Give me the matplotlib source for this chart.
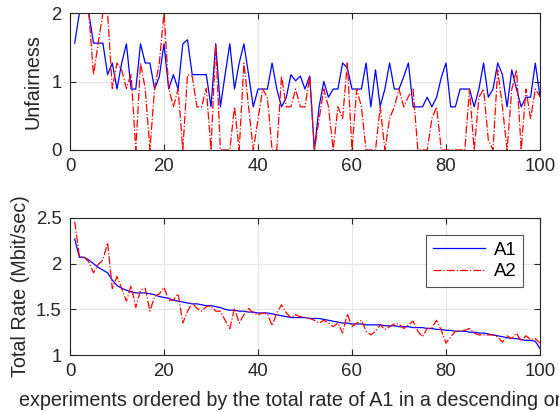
import numpy as np
import matplotlib
matplotlib.use("Agg")
import matplotlib.pyplot as plt

# experiment index
experiments = np.arange(1, 101)

# unfairness per experiment
unfair_a1 = [1.56, 2.0, 2.0, 2.0, 1.56, 1.56, 1.56, 1.1, 1.27, 0.89,
             1.27, 1.55, 0.89, 0.89, 1.55, 1.27, 1.27, 0.89, 1.07, 1.55,
             0.89, 1.1, 0.89, 1.55, 1.61, 1.1, 1.1, 1.1, 1.1, 0.63,
             1.55, 0.63, 1.1, 1.55, 0.89, 1.27, 1.55, 1.1, 0.63, 0.89,
             0.89, 0.89, 1.27, 0.89, 0.63, 0.76, 1.1, 1.01, 1.08, 0.89,
             1.08, 0.0, 0.63, 1.0, 0.77, 0.89, 0.89, 1.27, 1.2, 0.89,
             0.89, 0.89, 1.27, 0.63, 1.17, 0.64, 0.89, 1.27, 0.89, 0.89,
             1.07, 1.27, 0.63, 0.63, 0.63, 0.77, 0.63, 0.77, 1.06, 1.27,
             0.63, 0.63, 0.89, 0.89, 0.89, 0.63, 0.89, 1.27, 0.77, 0.89,
             1.27, 1.1, 0.63, 1.17, 0.89, 0.63, 0.77, 0.77, 1.27, 0.78]
unfair_a2 = [2.0, 2.0, 2.0, 2.0, 1.1, 1.56, 2.0, 2.0, 0.9, 1.27,
             1.17, 0.9, 1.1, 0.0, 1.27, 0.9, 0.0, 0.9, 1.27, 2.0,
             0.9, 0.63, 0.89, 0.0, 1.1, 1.08, 0.63, 0.63, 0.9, 0.0,
             1.55, 0.0, 0.0, 0.0, 0.63, 0.0, 1.27, 0.63, 0.0, 0.45,
             0.89, 0.77, 0.0, 0.0, 1.08, 0.63, 0.63, 0.89, 0.63, 0.63,
             1.08, 0.0, 0.45, 0.89, 0.63, 0.0, 0.63, 0.46, 1.27, 0.0,
             0.89, 0.63, 0.0, 0.0, 0.0, 0.63, 0.0, 0.46, 0.63, 0.89,
             0.63, 0.78, 0.89, 0.0, 0.0, 0.0, 0.46, 0.63, 0.0, 0.0,
             0.0, 0.0, 0.0, 0.0, 0.89, 0.0, 0.77, 0.89, 0.15, 0.0,
             1.17, 0.63, 0.0, 0.89, 1.17, 0.0, 0.89, 0.46, 0.89, 0.78]

# total rate (Mbit/sec)
rate_a1 = [2.27, 2.07, 2.07, 2.04, 2.0, 1.96, 1.93, 1.9, 1.82, 1.76,
           1.73, 1.71, 1.69, 1.68, 1.68, 1.68, 1.67, 1.66, 1.64, 1.63,
           1.62, 1.6, 1.59, 1.58, 1.57, 1.56, 1.56, 1.55, 1.54, 1.54,
           1.53, 1.52, 1.5, 1.49, 1.49, 1.48, 1.48, 1.47, 1.47, 1.46,
           1.46, 1.46, 1.45, 1.44, 1.43, 1.42, 1.41, 1.41, 1.41, 1.41,
           1.4, 1.4, 1.4, 1.39, 1.38, 1.37, 1.36, 1.35, 1.35, 1.34,
           1.34, 1.34, 1.33, 1.33, 1.33, 1.33, 1.32, 1.32, 1.32, 1.31,
           1.31, 1.31, 1.3, 1.3, 1.3, 1.29, 1.29, 1.28, 1.28, 1.27,
           1.27, 1.26, 1.26, 1.26, 1.25, 1.25, 1.24, 1.24, 1.23, 1.22,
           1.21, 1.2, 1.19, 1.18, 1.18, 1.17, 1.16, 1.16, 1.15, 1.07]
rate_a2 = [2.46, 2.08, 2.07, 2.02, 1.9, 1.99, 2.04, 2.23, 1.73, 1.86,
           1.73, 1.59, 1.76, 1.52, 1.71, 1.73, 1.48, 1.64, 1.67, 1.74,
           1.6, 1.6, 1.67, 1.35, 1.48, 1.57, 1.51, 1.48, 1.53, 1.54,
           1.48, 1.48, 1.38, 1.29, 1.51, 1.35, 1.44, 1.51, 1.46, 1.44,
           1.46, 1.45, 1.32, 1.46, 1.55, 1.46, 1.41, 1.44, 1.42, 1.41,
           1.4, 1.38, 1.35, 1.38, 1.35, 1.31, 1.35, 1.24, 1.45, 1.31,
           1.35, 1.38, 1.26, 1.22, 1.26, 1.33, 1.28, 1.31, 1.34, 1.34,
           1.29, 1.33, 1.37, 1.26, 1.2, 1.29, 1.3, 1.38, 1.27, 1.13,
           1.2, 1.26, 1.26, 1.27, 1.29, 1.24, 1.22, 1.22, 1.22, 1.22,
           1.2, 1.14, 1.21, 1.18, 1.24, 1.15, 1.21, 1.17, 1.18, 1.13]

plt.rcParams['font.family'] = ['Liberation Sans', 'DejaVu Sans']

EDGE = '#262626'
W, H = 559, 412
TICK_FS = 13.4
LABEL_FS = 14.2


def style_axes(ax):
    ax.grid(True, color='#e6e6e6', linewidth=0.8)
    ax.set_axisbelow(True)
    for s in ax.spines.values():
        s.set_color(EDGE)
        s.set_linewidth(0.8)
    ax.tick_params(direction='in', top=True, right=True, length=4,
                   width=0.8, color=EDGE, labelcolor=EDGE,
                   labelsize=TICK_FS, pad=6)
    ax.set_xlim(0, 100)
    ax.set_xticks([0, 20, 40, 60, 80, 100])


fig = plt.figure(figsize=(W / 100, H / 100), dpi=100)
ax1 = fig.add_axes([70 / W, 1 - 150 / H, 470 / W, 137 / H])
ax2 = fig.add_axes([70 / W, 1 - 355 / H, 470 / W, 137 / H])

ax1.plot(experiments, unfair_a1, '-', color='blue', linewidth=0.9)
ax1.plot(experiments, unfair_a2, '-.', color='red', linewidth=0.9)
style_axes(ax1)
ax1.set_ylim(0, 2)
ax1.set_yticks([0, 1, 2])
ax1.set_ylabel('Unfairness', color=EDGE, fontsize=LABEL_FS, labelpad=6)

ax2.plot(experiments, rate_a1, '-', color='blue', linewidth=0.9, label='A1')
ax2.plot(experiments, rate_a2, '-.', color='red', linewidth=0.9, label='A2')
style_axes(ax2)
ax2.set_ylim(1, 2.5)
ax2.set_yticks([1, 1.5, 2, 2.5])
ax2.set_yticklabels(['1', '1.5', '2', '2.5'])
ax2.set_ylabel('Total Rate (Mbit/sec)', color=EDGE, fontsize=LABEL_FS,
               labelpad=4)
# the label runs past the right edge in the original figure too
ax2.set_xlabel('experiments ordered by the total rate of A1 in a descending order',
               color=EDGE, fontsize=LABEL_FS, labelpad=8)

leg = ax2.legend(loc='upper right', bbox_to_anchor=(0.964, 0.876),
                 fontsize=TICK_FS, frameon=True, fancybox=False,
                 handlelength=2.8, handletextpad=0.5, borderpad=0.35,
                 labelspacing=0.25, borderaxespad=0)
leg.get_frame().set_edgecolor(EDGE)
leg.get_frame().set_linewidth(0.8)

fig.savefig('out.png', dpi=100)
